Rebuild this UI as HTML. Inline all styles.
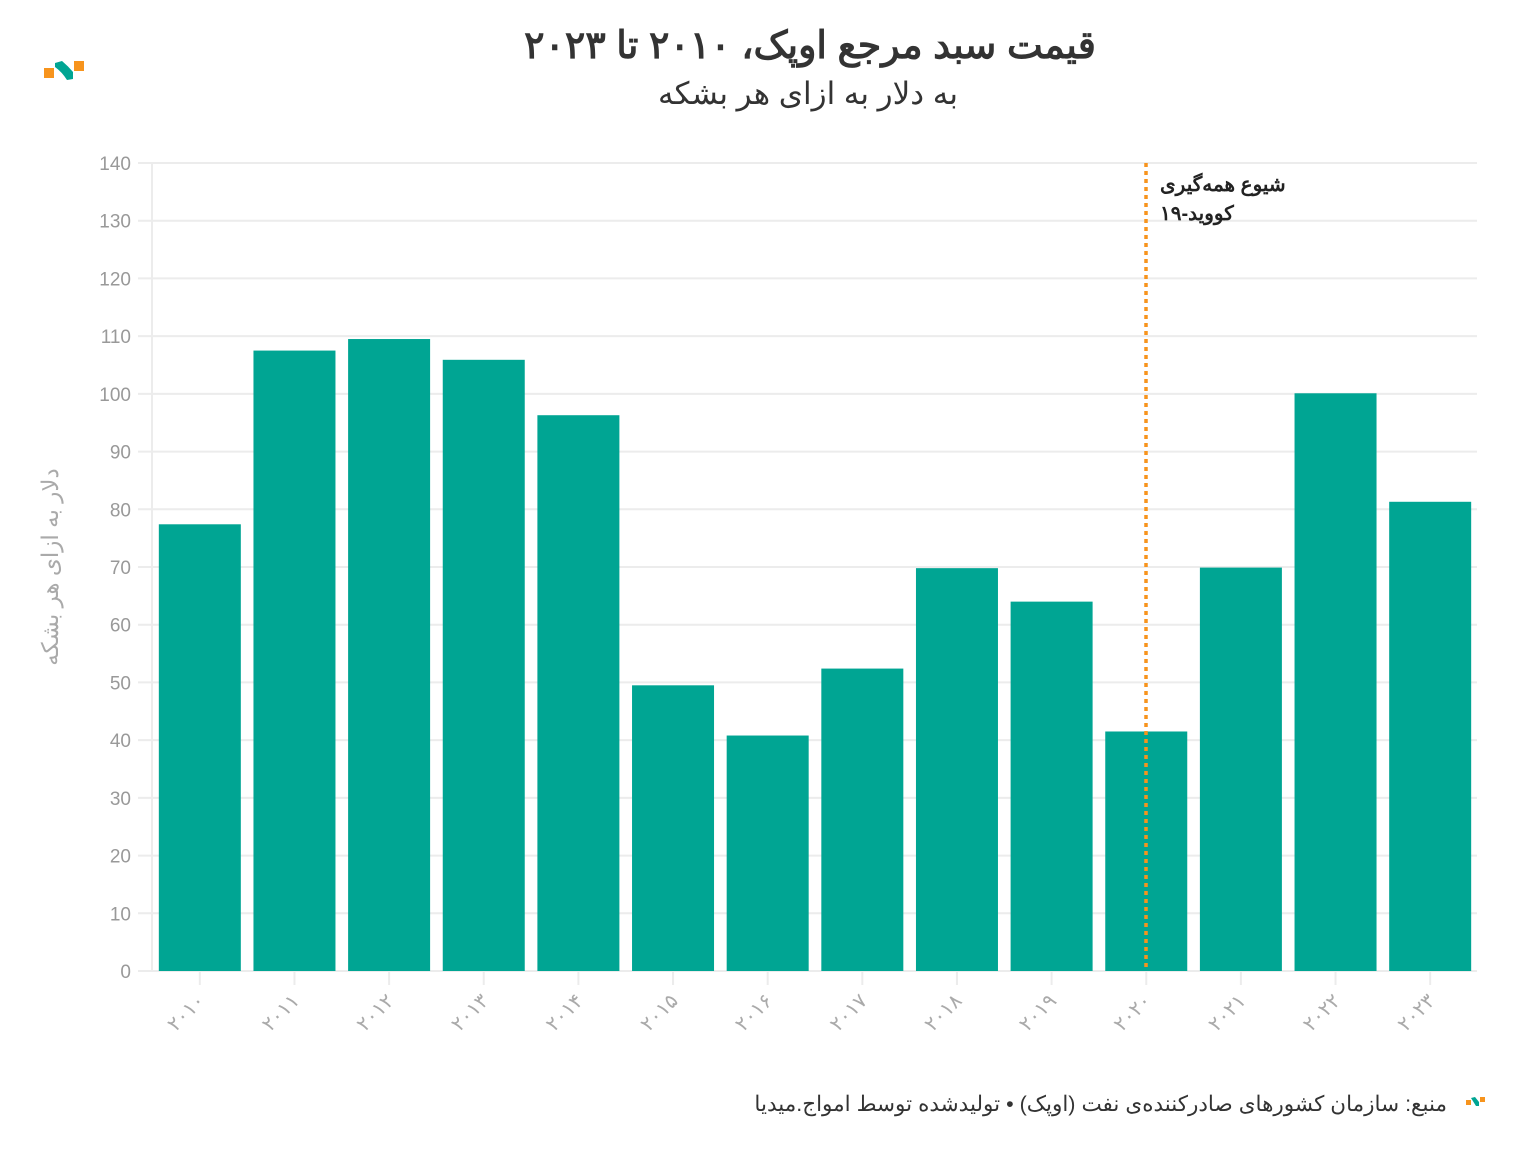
<!DOCTYPE html>
<html><head><meta charset="utf-8">
<style>
body{margin:0;background:#fff;width:1516px;height:1150px;overflow:hidden;font-family:"Liberation Sans","Noto Sans CJK SC",sans-serif;}
</style></head><body>
<svg width="1516" height="1150" xmlns="http://www.w3.org/2000/svg" id="chart">
<g>
<rect x="44" y="68" width="10" height="10" fill="#f7941d"/>
<rect x="74" y="61" width="10" height="10" fill="#f7941d"/>
<path d="M55 63 L62 61 Q68 66 73 72 L73 79 L67 80 Q62 72 55 67Z" fill="#00a593"/>
</g>
<text x="810" y="58" text-anchor="middle" font-size="38" font-weight="bold" fill="#333" direction="rtl">قیمت سبد مرجع اوپک، ۲۰۱۰ تا ۲۰۲۳</text>
<text x="808" y="104" text-anchor="middle" font-size="31" fill="#333" direction="rtl">به دلار به ازای هر بشکه</text>
<g id="grid"></g>
<g id="bars"></g>
<g id="xaxis"></g>
<text transform="translate(58,567) rotate(-90)" text-anchor="middle" font-size="23" fill="#aaa" direction="rtl">دلار به ازای هر بشکه</text>
<line x1="1146" y1="163" x2="1146" y2="971" stroke="#f7941d" stroke-width="3.5" stroke-dasharray="4,4"/>
<text x="1160" y="191" text-anchor="end" font-size="20" font-weight="bold" fill="#222" direction="rtl">شیوع همه‌گیری</text>
<text x="1160" y="220" text-anchor="end" font-size="20" font-weight="bold" fill="#222" direction="rtl">کووید-۱۹</text>
<text x="1447" y="1111" text-anchor="start" font-size="21.5" fill="#333" direction="rtl">منبع: سازمان کشورهای صادرکننده‌ی نفت (اوپک) • تولیدشده توسط امواج.میدیا</text>
<g>
<rect x="1466" y="1100" width="5" height="5" fill="#f7941d"/>
<rect x="1480" y="1097" width="5" height="5" fill="#f7941d"/>
<path d="M1471 1098 L1475 1097 L1479 1102 L1479 1106 L1476 1106Z" fill="#00a593"/>
</g>
</svg>
<script>
const years=["۲۰۱۰","۲۰۱۱","۲۰۱۲","۲۰۱۳","۲۰۱۴","۲۰۱۵","۲۰۱۶","۲۰۱۷","۲۰۱۸","۲۰۱۹","۲۰۲۰","۲۰۲۱","۲۰۲۲","۲۰۲۳"];
const prices=[77.4,107.5,109.5,105.9,96.3,49.5,40.8,52.4,69.8,64.0,41.5,69.9,100.1,81.3];
const yTicks=[0,10,20,30,40,50,60,70,80,90,100,110,120,130,140];
const NS="http://www.w3.org/2000/svg";
const x0=152,x1=1477,y0=971,yTop=163,yMax=140;
const step=(x1-x0)/years.length;
const yS=v=>y0-(v/yMax)*(y0-yTop);
const xC=i=>x0+step*(i+0.5)+0.5;
function mk(t,a,p){const e=document.createElementNS(NS,t);for(const k in a)e.setAttribute(k,a[k]);p.appendChild(e);return e;}
const grid=document.getElementById('grid');
yTicks.forEach(v=>{
 const l=mk('line',{x1:138,x2:x1,y1:yS(v),y2:yS(v),stroke:'#ececec','stroke-width':2},grid);
 
 
 const t=mk('text',{x:131,y:yS(v)+7,'text-anchor':'end','font-size':19,fill:'#999'},grid);
 t.textContent=v;
 
 
});
mk('line',{x1:152,x2:152,y1:163,y2:971,stroke:'#ececec','stroke-width':2},grid);
const bars=document.getElementById('bars');
const xa=document.getElementById('xaxis');
prices.forEach((v,i)=>{
 const w=82;
 const r=mk('rect',{x:xC(i)-w/2,y:yS(v),width:w,height:y0-yS(v),fill:'#00a593'},bars);
 
 
 const tk=mk('line',{x1:xC(i),x2:xC(i),y1:972,y2:985,stroke:'#ececec','stroke-width':2},xa);
 
 
 const t=mk('text',{transform:`translate(${xC(i)+6},${1002}) rotate(-45)`,'text-anchor':'end','font-size':20,fill:'#aaa'},xa);
 t.textContent=years[i];
 
 
});
</script>
</body></html>
